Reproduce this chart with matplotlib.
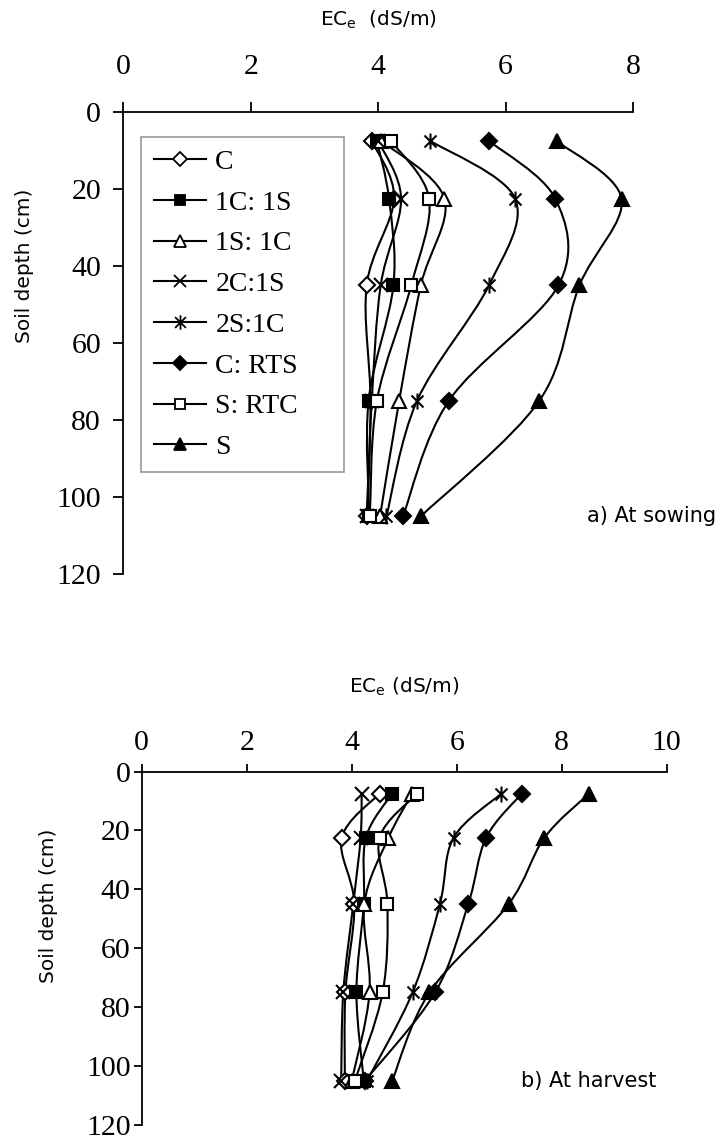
import matplotlib
matplotlib.use("Agg")
import matplotlib.pyplot as plt
from matplotlib.path import Path
from matplotlib.patches import PathPatch
from matplotlib.lines import Line2D
import numpy as np

# ---------------- data ----------------
depth = [7.5, 22.5, 45, 75, 105]
series_names = ["C", "1C: 1S", "1S: 1C", "2C:1S", "2S:1C", "C: RTS", "S: RTC", "S"]

sow_C     = [3.90, 4.25, 3.82, 3.88, 3.83]
sow_1C1S  = [3.98, 4.17, 4.24, 3.85, 3.86]
sow_1S1C  = [4.05, 5.04, 4.67, 4.33, 4.03]
sow_2C1S  = [4.00, 4.36, 4.04, 3.90, 3.82]
sow_2S1C  = [4.82, 6.15, 5.74, 4.61, 4.13]
sow_CRTS  = [5.74, 6.78, 6.83, 5.11, 4.39]
sow_SRTC  = [4.20, 4.80, 4.52, 3.98, 3.87]
sow_S     = [6.80, 7.82, 7.16, 6.53, 4.67]

har_C     = [4.53, 3.81, 4.05, 3.88, 3.87]
har_1C1S  = [4.77, 4.27, 4.23, 4.09, 4.23]
har_1S1C  = [5.15, 4.70, 4.24, 4.34, 4.00]
har_2C1S  = [4.19, 4.17, 4.03, 3.84, 3.80]
har_2S1C  = [6.85, 5.94, 5.68, 5.16, 4.29]
har_CRTS  = [7.24, 6.56, 6.22, 5.59, 4.25]
har_SRTC  = [5.25, 4.53, 4.68, 4.59, 4.06]
har_S     = [8.52, 7.67, 6.99, 5.48, 4.77]

sow_ticks = [0, 2, 4, 6, 8]
har_ticks = [0, 2, 4, 6, 8, 10]
depth_ticks = [0, 20, 40, 60, 80, 100, 120]

sowing = [sow_C, sow_1C1S, sow_1S1C, sow_2C1S, sow_2S1C, sow_CRTS, sow_SRTC, sow_S]
harvest = [har_C, har_1C1S, har_1S1C, har_2C1S, har_2S1C, har_CRTS, har_SRTC, har_S]

# ---------------- styles ----------------
ast = Path([(0, -1), (0, 1), (-0.75, -0.75), (0.75, 0.75), (-0.75, 0.75), (0.75, -0.75)],
           [Path.MOVETO, Path.LINETO, Path.MOVETO, Path.LINETO, Path.MOVETO, Path.LINETO])
styles = [
    dict(marker="D", ms=8.0, mfc="white"),
    dict(marker="s", ms=8.0, mfc="black"),
    dict(marker="^", ms=9.5, mfc="white"),
    dict(marker="x", ms=9.5, mfc="none"),
    dict(marker=ast, ms=11.5, mfc="none"),
    dict(marker="D", ms=8.0, mfc="black"),
    dict(marker="s", ms=8.0, mfc="white"),
    dict(marker="^", ms=9.5, mfc="black"),
]

LW = 1.5
serif = "Liberation Serif"
sans = "DejaVu Sans"

W, H = 721, 1148
fig = plt.figure(figsize=(W / 100, H / 100), dpi=100)


def smooth_path(xs, ys):
    P = list(zip(xs, ys))
    n = len(P)
    verts = [P[0]]
    codes = [Path.MOVETO]
    for i in range(n - 1):
        p0 = np.array(P[i - 1] if i > 0 else P[i])
        p1 = np.array(P[i])
        p2 = np.array(P[i + 1])
        p3 = np.array(P[i + 2] if i + 2 < n else P[i + 1])
        c1 = p1 + (p2 - p0) / 6.0
        c2 = p2 - (p3 - p1) / 6.0
        verts += [tuple(c1), tuple(c2), tuple(p2)]
        codes += [Path.CURVE4] * 3
    return Path(verts, codes)


def make_axes(rect_px, xmax, xticks, xlabpad, ylabpad, ticklen):
    l, t, r, b = rect_px
    ax = fig.add_axes([l / W, (H - b) / H, (r - l) / W, (b - t) / H])
    ax.set_xlim(0, xmax)
    ax.set_ylim(120, 0)
    ax.xaxis.tick_top()
    ax.xaxis.set_label_position("top")
    ax.set_xticks(xticks)
    ax.set_yticks(depth_ticks)
    for s in ["right", "bottom"]:
        ax.spines[s].set_visible(False)
    for s in ["top", "left"]:
        ax.spines[s].set_linewidth(1.3)
    ax.tick_params(axis="x", direction="out", length=ticklen, width=1.3, pad=xlabpad)
    ax.tick_params(axis="y", direction="out", length=ticklen, width=1.3, pad=ylabpad)
    for lab in ax.get_xticklabels() + ax.get_yticklabels():
        lab.set_fontfamily(serif)
        lab.set_fontsize(21.5)
    return ax


def draw(ax, data):
    for vals, st in zip(data, styles):
        ax.add_patch(PathPatch(smooth_path(vals, depth), fill=False, lw=LW, ec="black", zorder=2))
        ax.plot(vals, depth, linestyle="none", marker=st["marker"], ms=st["ms"],
                mfc=st["mfc"], mec="black", mew=1.5, zorder=3, clip_on=False)


# ---------------- top panel ----------------
ax1 = make_axes((123.3, 112, 633, 574), 8, sow_ticks, 16, 9, 7)
draw(ax1, sowing)
ax1.set_xlabel(r"EC$_\mathregular{e}$  (dS/m)", fontsize=14.5, family=sans)
ax1.xaxis.label.set_va("center")
ax1.xaxis.set_label_coords(0.5, 1 + (112 - 20) / 462)
ax1.set_ylabel("Soil depth (cm)", fontsize=14.5, family=sans)
ax1.yaxis.set_label_coords((34 - 123.3) / 509.7, 0.667)
ax1.text(7.28, 105, "a) At sowing", fontsize=15, family=sans, va="center", ha="left", clip_on=False)

handles = [Line2D([], [], color="black", lw=LW, marker=st["marker"], ms=st["ms"] * 0.9,
                  mfc=st["mfc"], mec="black", mew=1.3) for st in styles]
leg = ax1.legend(handles, series_names, loc="upper left",
                 bbox_to_anchor=(0.035, 0.221, 0.398, 0.725), mode="expand",
                 borderaxespad=0, prop={"family": serif, "size": 20},
                 handlelength=1.9, handletextpad=0.32, labelspacing=0.55,
                 borderpad=0.45, fancybox=False, frameon=True)
leg.get_frame().set_edgecolor("#808080")
leg.get_frame().set_linewidth(1.2)

# ---------------- bottom panel ----------------
ax2 = make_axes((141.7, 771.5, 666.7, 1125), 10, har_ticks, 5, 2, 6)
draw(ax2, harvest)
ax2.set_xlabel(r"EC$_\mathregular{e}$ (dS/m)", fontsize=14.5, family=sans)
ax2.xaxis.label.set_va("center")
ax2.xaxis.set_label_coords(0.5, 1 + (771.5 - 687) / 353.5)
ax2.set_ylabel("Soil depth (cm)", fontsize=14.5, family=sans)
ax2.yaxis.set_label_coords((58 - 141.7) / 525, 0.62)
ax2.text(7.22, 105, "b) At harvest", fontsize=15, family=sans, va="center", ha="left", clip_on=False)

fig.savefig("out.png", dpi=100)
